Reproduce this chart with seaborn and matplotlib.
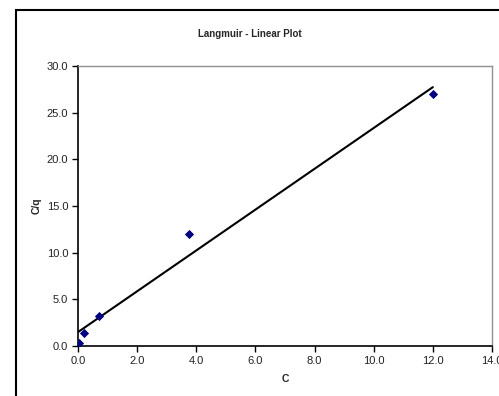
import matplotlib
matplotlib.use("Agg")
import matplotlib.pyplot as plt
import matplotlib.patches as mpatches
import seaborn as sns
import pandas as pd

# Equilibrium concentration C and the ratio C/q
conc = [0.02, 0.2, 0.72, 3.75, 12.0]
c_over_q = [0.3, 1.4, 3.2, 12.05, 27.0]

x_ticks = [0, 2, 4, 6, 8, 10, 12, 14]
y_ticks = [0, 5, 10, 15, 20, 25, 30]

df = pd.DataFrame({"C": conc, "C/q": c_over_q})

sns.set_style("white")
plt.rcParams["font.family"] = ["Liberation Sans", "DejaVu Sans"]

fig = plt.figure(figsize=(4.99, 3.96), dpi=100)
ax = fig.add_axes([78 / 499, 50 / 396, 414 / 499, 280 / 396])

# Outer chart border
fig.patches.append(mpatches.Rectangle((16 / 499, -0.1), 1.0, (396 - 10) / 396 + 0.1,
                                      transform=fig.transFigure, fill=False,
                                      edgecolor="black", linewidth=1.5, zorder=0))

sns.regplot(data=df, x="C", y="C/q", ax=ax, scatter=False, ci=None,
            line_kws={"color": "black", "linewidth": 1.5})
sns.scatterplot(data=df, x="C", y="C/q", ax=ax, marker="D", s=22,
                color="#000080", edgecolor="#000080", linewidth=0, zorder=3)

ax.set_xlim(0, 14)
ax.set_ylim(0, 30)
ax.set_xticks(x_ticks)
ax.set_yticks(y_ticks)
ax.set_xticklabels([f"{v:.1f}" for v in x_ticks], fontsize=8)
ax.set_yticklabels([f"{v:.1f}" for v in y_ticks], fontsize=8)
ax.tick_params(direction="out", length=4, width=1, colors="black", pad=3,
               bottom=True, left=True)
for lab in ax.get_xticklabels() + ax.get_yticklabels():
    lab.set_color("#222222")

for side in ("left", "bottom"):
    ax.spines[side].set_color("black")
    ax.spines[side].set_linewidth(1.2)
for side in ("top", "right"):
    ax.spines[side].set_color("#909090")
    ax.spines[side].set_linewidth(1.0)

ax.set_xlabel("C", fontsize=7.5, fontweight="bold", labelpad=6)
ax.set_ylabel("C/q", fontsize=7.5, fontweight="bold", labelpad=4)
fig.text(250 / 499, 1 - 34 / 396, "Langmuir - Linear Plot", ha="center", va="center",
         fontsize=7, fontweight="bold")

fig.savefig("out.png", dpi=100, facecolor="white")
